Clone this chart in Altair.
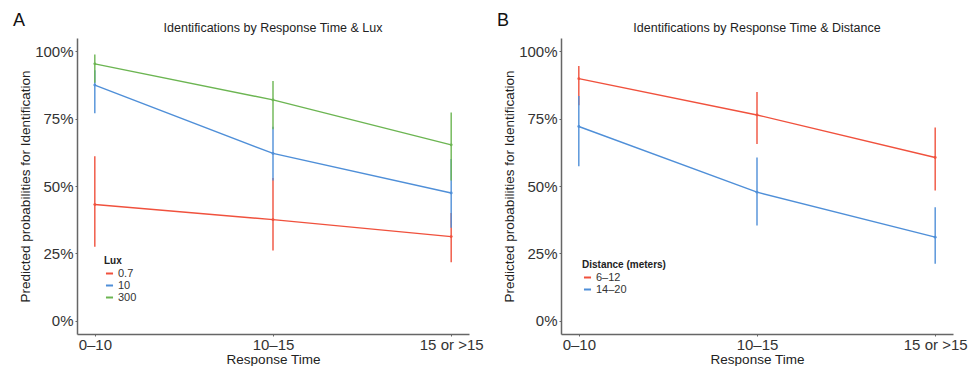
import altair as alt
import pandas as pd

response = ["0–10", "10–15", "15 or >15"]

# Panel A: Lux
lux_levels = ["0.7", "10", "300"]
lux_mean = [[0.431, 0.375, 0.312], [0.875, 0.621, 0.474], [0.954, 0.820, 0.653]]
lux_lo = [[0.274, 0.260, 0.217], [0.770, 0.520, 0.345], [0.884, 0.711, 0.520]]
lux_hi = [[0.611, 0.530, 0.400], [0.930, 0.720, 0.600], [0.989, 0.890, 0.773]]
lux_colors = ["#F0513D", "#4F8FD8", "#6CB552"]

# Panel B: Distance
dist_levels = ["6–12", "14–20"]
dist_mean = [[0.899, 0.764, 0.606], [0.721, 0.477, 0.310]]
dist_lo = [[0.800, 0.656, 0.483], [0.573, 0.353, 0.211]]
dist_hi = [[0.946, 0.849, 0.717], [0.834, 0.606, 0.421]]
dist_colors = ["#F0513D", "#4F8FD8"]

FONT = "Liberation Sans"


def build_df(levels, mean, lo, hi):
    rows = []
    for gi, g in enumerate(levels):
        for ti, t in enumerate(response):
            rows.append({"time": t, "g": g, "p": mean[gi][ti],
                         "lo": lo[gi][ti], "hi": hi[gi][ti], "order": gi})
    return pd.DataFrame(rows)


def panel(df, levels, colors, legend_title, title, letter, lx, ly):
    x = alt.X("time:N", sort=response,
              scale=alt.Scale(type="point", padding=0.1),
              axis=alt.Axis(title="Response Time", labelAngle=0))
    y = alt.Y("p:Q", scale=alt.Scale(domain=[-0.05, 1.05], nice=False, zero=False),
              axis=alt.Axis(values=[0, 0.25, 0.5, 0.75, 1], format=".0%",
                            title="Predicted probabilities for Identification"))
    color = alt.Color("g:N", sort=levels,
                      scale=alt.Scale(domain=levels, range=colors),
                      legend=alt.Legend(title=legend_title, orient="none",
                                        legendX=lx, legendY=ly,
                                        symbolType="stroke", symbolStrokeWidth=2,
                                        symbolSize=50, rowPadding=0,
                                        titleFontSize=10, titleFontWeight="bold",
                                        titlePadding=2, titleColor="#222",
                                        labelFontSize=11, labelColor="#333",
                                        labelOffset=3, labelFont=FONT, titleFont=FONT))
    base = alt.Chart(df)
    rules = base.mark_rule(strokeWidth=1.4).encode(
        x=x, y=alt.Y("lo:Q"), y2="hi:Q", color=color, order="order:Q")
    line = base.mark_line(strokeWidth=1.4).encode(x=x, y=y, color=color)
    pts = base.mark_circle(size=8, opacity=1).encode(x=x, y=y, color=color)
    lab = alt.Chart(pd.DataFrame({"t": [letter]})).mark_text(
        font=FONT, fontSize=18, align="center", baseline="alphabetic", color="#111"
    ).encode(x=alt.value(-58), y=alt.value(-12), text="t:N")
    ttl = alt.Chart(pd.DataFrame({"t": [title]})).mark_text(
        font=FONT, fontSize=12.5, align="center", baseline="alphabetic", color="#222"
    ).encode(x=alt.value(196), y=alt.value(-6), text="t:N")
    return alt.layer(rules, line, pts, lab, ttl).properties(width=392, height=296)


dfA = build_df(lux_levels, lux_mean, lux_lo, lux_hi)
dfB = build_df(dist_levels, dist_mean, dist_lo, dist_hi)

A = panel(dfA, lux_levels, lux_colors, "Lux",
          "Identifications by Response Time & Lux", "A", 27, 218)
B = panel(dfB, dist_levels, dist_colors, "Distance (meters)",
          "Identifications by Response Time & Distance", "B", 21, 222)

chart = alt.hconcat(A, B, spacing=92, bounds="flush").resolve_scale(
    color="independent"
).properties(
    padding={"left": 12, "top": 12, "right": 5, "bottom": 2}
).configure_view(stroke=None).configure_axis(
    grid=False, domainColor="#666", domainWidth=1.5, tickColor="#666",
    tickSize=2, labelFont=FONT, titleFont=FONT, labelFontSize=15,
    labelColor="#333", titleColor="#222", titleFontWeight="normal",
).configure_axisY(
    titleFontSize=13.5, labelPadding=2, titlePadding=2
).configure_axisX(
    titleFontSize=13.5, labelPadding=1, titlePadding=0
)

chart.save("out.html", embed_options={"renderer": "svg", "actions": False})
